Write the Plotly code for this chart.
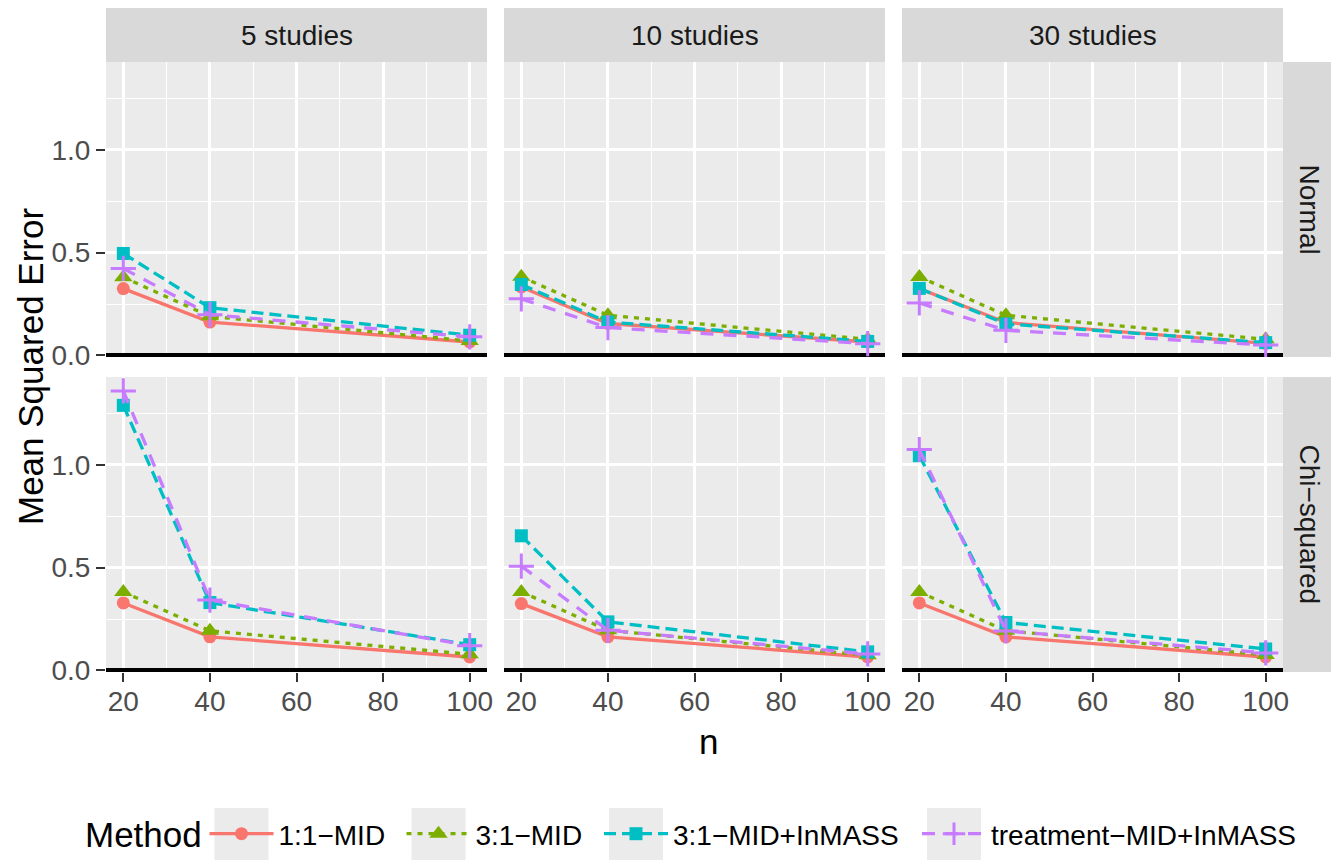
import plotly.graph_objects as go

# ---------------- data ----------------
n_values = [20, 40, 100]
study_labels = ["5 studies", "10 studies", "30 studies"]
dist_labels = ["Normal", "Chi\u2212squared"]
method_labels = ["1:1\u2212MID", "3:1\u2212MID", "3:1\u2212MID+InMASS", "treatment\u2212MID+InMASS"]

# values for n = 20, 40, 100 ; blocks = 5, 10, 30 studies
mid11_normal = [0.325, 0.162, 0.065, 0.333, 0.155, 0.065, 0.325, 0.160, 0.058]
mid31_normal = [0.380, 0.190, 0.070, 0.383, 0.195, 0.078, 0.382, 0.195, 0.078]
inmass31_normal = [0.496, 0.232, 0.098, 0.345, 0.162, 0.068, 0.326, 0.153, 0.062]
inmasstrt_normal = [0.423, 0.198, 0.090, 0.275, 0.135, 0.057, 0.255, 0.122, 0.050]

mid11_chisq = [0.328, 0.163, 0.065, 0.325, 0.163, 0.065, 0.328, 0.163, 0.065]
mid31_chisq = [0.382, 0.193, 0.078, 0.382, 0.195, 0.073, 0.382, 0.193, 0.075]
inmass31_chisq = [1.290, 0.330, 0.125, 0.655, 0.236, 0.090, 1.045, 0.233, 0.104]
inmasstrt_chisq = [1.360, 0.342, 0.120, 0.507, 0.195, 0.080, 1.075, 0.192, 0.085]

series = {
    "Normal": [mid11_normal, mid31_normal, inmass31_normal, inmasstrt_normal],
    "Chi\u2212squared": [mid11_chisq, mid31_chisq, inmass31_chisq, inmasstrt_chisq],
}

y_tick_vals = [0.0, 0.5, 1.0]
y_tick_text = ["0.0", "0.5", "1.0"]
x_tick_vals = [20, 40, 60, 80, 100]

# ---------------- style ----------------
colors = ["#F8766D", "#7CAE00", "#00BFC4", "#C77CFF"]
dashes = ["solid", "5px,6px", "12px,6px", "13px,10px"]
symbols = ["circle", "triangle-up", "square", "cross-thin"]
msizes = [13, 16, 13, 18]

# the page adds an 8px body margin; work in reference-pixel coordinates
OFF = 8
W, H = 1339 - OFF, 861 - OFF
ML = 106 - OFF
MT = 62 - OFF
MR = W - (1283 - OFF)
MB = H - (672 - OFF)
PW = W - ML - MR
PH = H - MT - MB


def px_x(px):
    return (px - OFF - ML) / PW


def px_y(py):
    return (H - MB - (py - OFF)) / PH


col_dom = [[px_x(106), px_x(487)], [px_x(504), px_x(885)], [px_x(902), px_x(1283)]]
row_dom = [[px_y(357), px_y(62)], [px_y(672), px_y(377)]]

all_vals = [v for d in series.values() for s in d for v in s]
ymax = max(all_vals)
y_range = [-0.008, ymax * 1.05]
x_pad = 0.05 * (max(n_values) - min(n_values))
x_range = [min(n_values) - x_pad, max(n_values) + x_pad]

FONT = "Liberation Sans, Arial, sans-serif"

fig = go.Figure()
legend_names = ["legend", "legend2", "legend3", "legend4"]

for r, dist in enumerate(dist_labels):
    for c in range(3):
        k = r * 3 + c + 1
        xa = "x" if k == 1 else f"x{k}"
        ya = "y" if k == 1 else f"y{k}"
        for m in range(4):
            vals = series[dist][m][c * 3:(c + 1) * 3]
            fig.add_trace(go.Scatter(
                x=n_values, y=vals, xaxis=xa, yaxis=ya,
                mode="lines+markers", name=method_labels[m],
                line=dict(color=colors[m], width=3.3, dash=dashes[m]),
                marker=dict(color=colors[m], size=msizes[m], symbol=symbols[m],
                            line=dict(color=colors[m], width=3 if m == 3 else 0)),
                showlegend=(k == 1), legend=legend_names[m],
                hoverinfo="skip",
            ))

layout = dict(
    width=W, height=H,
    margin=dict(l=ML, r=MR, t=MT, b=MB, pad=0),
    paper_bgcolor="white", plot_bgcolor="#EBEBEB",
    font=dict(family=FONT, size=28, color="black"),
    showlegend=True,
)

for r in range(2):
    for c in range(3):
        k = r * 3 + c + 1
        xk = "xaxis" if k == 1 else f"xaxis{k}"
        yk = "yaxis" if k == 1 else f"yaxis{k}"
        layout[xk] = dict(
            domain=col_dom[c], anchor="y" if k == 1 else f"y{k}",
            range=x_range, tickvals=x_tick_vals, ticktext=[str(v) for v in x_tick_vals],
            showgrid=True, gridcolor="white", gridwidth=2.6,
            minor=dict(showgrid=True, gridcolor="white", gridwidth=1.3, dtick=10, tick0=0, ticks=""),
            zeroline=False, showline=False,
            ticks="outside" if r == 1 else "", ticklen=9, tickwidth=2.2, tickcolor="#333333",
            showticklabels=(r == 1), ticklabelstandoff=-5,
            tickfont=dict(family=FONT, size=28, color="#4D4D4D"),
            fixedrange=True,
        )
        layout[yk] = dict(
            domain=row_dom[r], anchor="x" if k == 1 else f"x{k}",
            range=y_range, tickvals=y_tick_vals, ticktext=y_tick_text,
            showgrid=True, gridcolor="white", gridwidth=2.6,
            minor=dict(showgrid=True, gridcolor="white", gridwidth=1.3, dtick=0.25, tick0=0, ticks=""),
            zeroline=True, zerolinecolor="black", zerolinewidth=3.6,
            showline=False,
            ticks="outside" if c == 0 else "", ticklen=9, tickwidth=2.2, tickcolor="#333333",
            showticklabels=(c == 0),
            tickfont=dict(family=FONT, size=28, color="#4D4D4D"),
            fixedrange=True,
        )

shapes = []
annotations = []
strip_h = 54 / PH
strip_w = 52 / PW
for c in range(3):
    shapes.append(dict(type="rect", xref="paper", yref="paper",
                       x0=col_dom[c][0], x1=col_dom[c][1], y0=1, y1=1 + strip_h,
                       fillcolor="#D9D9D9", line=dict(width=0), layer="below"))
    annotations.append(dict(xref="paper", yref="paper", x=(col_dom[c][0] + col_dom[c][1]) / 2,
                            y=1 + strip_h / 2, text=study_labels[c], showarrow=False,
                            xanchor="center", yanchor="middle",
                            font=dict(family=FONT, size=28, color="#1A1A1A")))
for r in range(2):
    shapes.append(dict(type="rect", xref="paper", yref="paper",
                       x0=1, x1=1 + strip_w, y0=row_dom[r][0], y1=row_dom[r][1],
                       fillcolor="#D9D9D9", line=dict(width=0), layer="below"))
    annotations.append(dict(xref="paper", yref="paper", x=1 + strip_w / 2,
                            y=(row_dom[r][0] + row_dom[r][1]) / 2, text=dist_labels[r],
                            showarrow=False, textangle=90, xanchor="center", yanchor="middle",
                            font=dict(family=FONT, size=28, color="#1A1A1A")))

# axis titles
annotations.append(dict(xref="paper", yref="paper", x=px_x(708), y=px_y(742), text="n",
                        showarrow=False, xanchor="center", yanchor="middle",
                        font=dict(family=FONT, size=35, color="black")))
annotations.append(dict(xref="paper", yref="paper", x=px_x(30), y=px_y(367),
                        text="Mean Squared Error", showarrow=False, textangle=-90,
                        xanchor="center", yanchor="middle",
                        font=dict(family=FONT, size=35, color="black")))
# legend title
annotations.append(dict(xref="paper", yref="paper", x=px_x(83), y=px_y(834), text="Method",
                        showarrow=False, xanchor="left", yanchor="middle",
                        font=dict(family=FONT, size=35, color="black")))

ITEMW = 64
key_centers = [241.5, 438.5, 636, 954]
for m, cx in enumerate(key_centers):
    shapes.append(dict(type="rect", xref="paper", yref="paper",
                       x0=px_x(cx - 27), x1=px_x(cx + 27), y0=px_y(860), y1=px_y(808),
                       fillcolor="#EBEBEB", line=dict(width=0), layer="below"))
    layout[legend_names[m]] = dict(
        orientation="h", xref="container", yref="container",
        x=(cx - (ITEMW + 10) / 2 - OFF) / W, y=1 - (834 - OFF) / H,
        xanchor="left", yanchor="middle",
        bgcolor="rgba(0,0,0,0)", borderwidth=0,
        font=dict(family=FONT, size=28, color="black"),
        itemwidth=ITEMW, itemclick=False, itemdoubleclick=False,
    )

layout["shapes"] = shapes
layout["annotations"] = annotations
fig.update_layout(**layout)

fig.write_html("out.html")
